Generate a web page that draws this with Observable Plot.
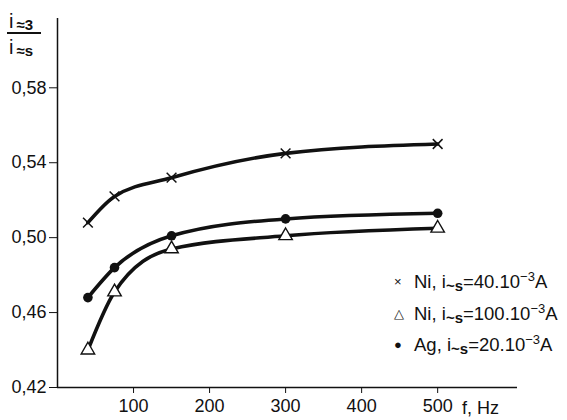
<!DOCTYPE html>
<html><head><meta charset="utf-8">
<script src="https://cdn.jsdelivr.net/npm/d3@7"></script>
<script src="https://cdn.jsdelivr.net/npm/@observablehq/plot@0.6"></script>
<style>
body{margin:0;background:#fff;}
#wrap{position:relative;width:567px;height:420px;font-family:"Liberation Sans",Arial,sans-serif;color:#111;background:#fff;}
.ov{position:absolute;white-space:nowrap;line-height:1;}
#ylab{left:7px;top:11px;font-size:20px;text-align:left;}
#ylab .num{border-bottom:2px solid #111;padding:0 0 1px 2px;width:32px;}
#ylab .den{padding:3px 0 0 2px;}
#ylab .s{font-size:15px;font-weight:bold;position:relative;top:2px;margin-left:3px;}
#xlab{left:462px;top:399px;font-size:18px;}
.leg{font-size:18.5px;}
.leg sub{font-size:15px;font-weight:bold;vertical-align:-3px;}
.leg sup{font-size:13px;vertical-align:7px;}
.sym{display:inline-block;width:20px;font-weight:normal;font-size:13px;vertical-align:2px;}
</style></head><body><div id="wrap"></div>
<script>
const freqs = [40, 75, 150, 300, 500];
const ni40 = [0.508, 0.522, 0.532, 0.545, 0.550];
const ni100 = [0.440, 0.471, 0.494, 0.501, 0.505];
const ag20 = [0.468, 0.484, 0.501, 0.510, 0.513];
const yTicks = [0.42, 0.46, 0.50, 0.54, 0.58];
const xTicks = [100, 200, 300, 400, 500];
const legendLabels = [
  'Ni, i<sub>~s</sub>=40.10<sup>−3</sup>A',
  'Ni, i<sub>~s</sub>=100.10<sup>−3</sup>A',
  'Ag, i<sub>~s</sub>=20.10<sup>−3</sup>A'
];
const legendSymbols = ["×", "△", "●"];

const rows = s => freqs.map((f, i) => ({f, v: s[i]}));
const dNi40 = rows(ni40), dNi100 = rows(ni100), dAg = rows(ag20);

const fmt = d => d.toFixed(2).replace(".", ",");
const lineOpts = {x: "f", y: "v", curve: "monotone-x", stroke: "#111", strokeWidth: 3.6};

const chart = Plot.plot({
  width: 567, height: 420,
  marginLeft: 57, marginRight: 50, marginTop: 18, marginBottom: 33,
  style: {fontFamily: '"Liberation Sans", Arial, sans-serif', fontSize: "18px", color: "#111", background: "transparent"},
  x: {domain: [0, 605]},
  y: {domain: [0.42, 0.617]},
  marks: [
    Plot.ruleX([0], {stroke: "#111", strokeWidth: 1.5}),
    Plot.ruleY([0.42], {stroke: "#111", strokeWidth: 1.5}),
    Plot.axisY({ticks: yTicks, tickFormat: fmt, tickSize: 8, tickPadding: 3, label: null, stroke: "#111"}),
    Plot.axisX({ticks: xTicks, tickSize: 6, tickPadding: 6, label: null, stroke: "#111"}),
    Plot.line(dNi40, lineOpts),
    Plot.line(dNi100, lineOpts),
    Plot.line(dAg, lineOpts),
    Plot.dot(dNi40, {x: "f", y: "v", symbol: "times", r: 4.5, stroke: "#111", strokeWidth: 1.5, fill: "none"}),
    Plot.dot(dNi100, {x: "f", y: "v", symbol: "triangle", r: 5, stroke: "#111", strokeWidth: 1.4, fill: "white"}),
    Plot.dot(dAg, {x: "f", y: "v", r: 4.8, fill: "#111", stroke: "none"})
  ]
});
const wrap = document.getElementById("wrap");
wrap.appendChild(chart);

const ylab = document.createElement("div");
ylab.className = "ov"; ylab.id = "ylab";
ylab.innerHTML = '<div class="num">i<span class="s">≈3</span></div><div class="den">i<span class="s">≈s</span></div>';
wrap.appendChild(ylab);

const xlab = document.createElement("div");
xlab.className = "ov"; xlab.id = "xlab";
xlab.textContent = "f, Hz";
wrap.appendChild(xlab);

const legTops = [270, 302, 333];
legendLabels.forEach((t, i) => {
  const d = document.createElement("div");
  d.className = "ov leg";
  d.style.left = "394px";
  d.style.top = legTops[i] + "px";
  d.innerHTML = '<span class="sym">' + legendSymbols[i] + '</span>' + t;
  wrap.appendChild(d);
});
</script></body></html>
